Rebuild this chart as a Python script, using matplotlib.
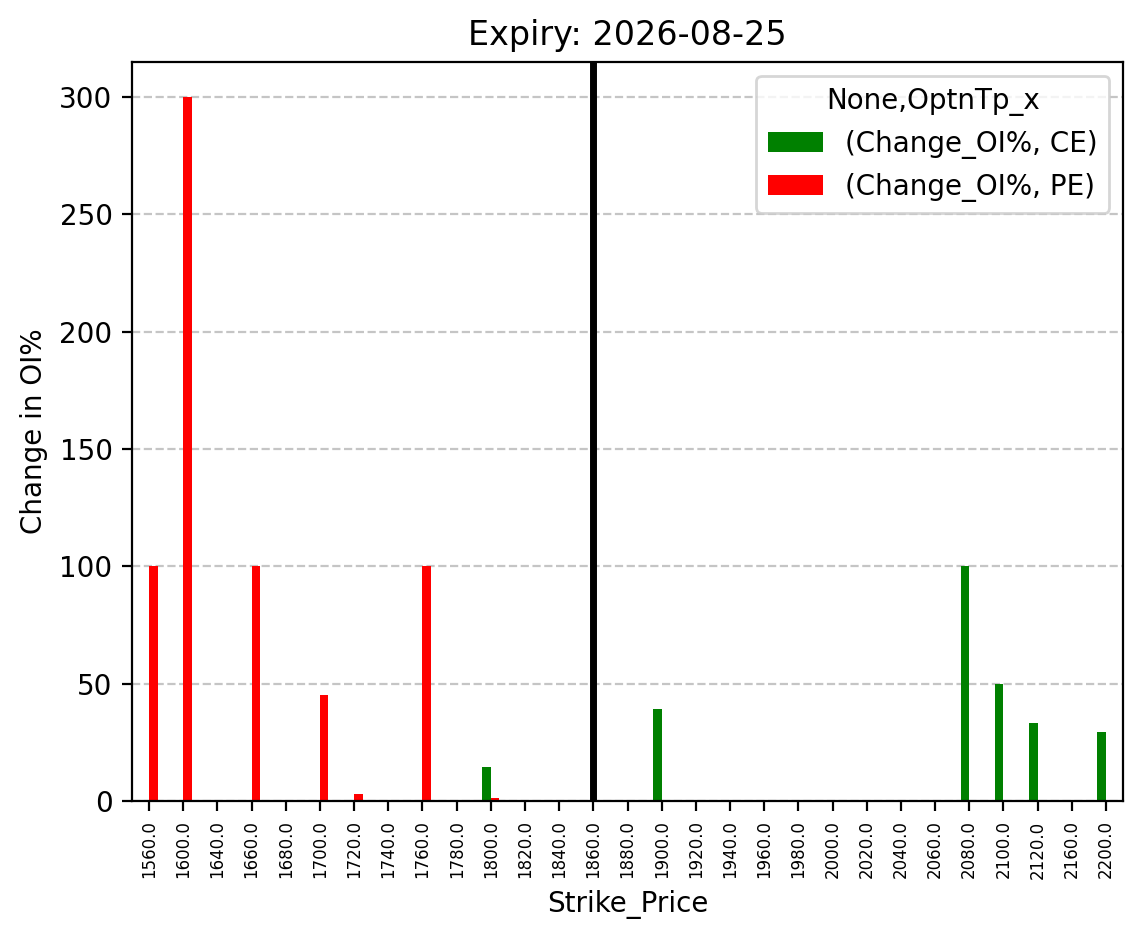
import matplotlib
matplotlib.use("Agg")
import matplotlib.pyplot as plt
import numpy as np

strikes = [1560.0, 1600.0, 1640.0, 1660.0, 1680.0, 1700.0, 1720.0, 1740.0, 1760.0,
           1780.0, 1800.0, 1820.0, 1840.0, 1860.0, 1880.0, 1900.0, 1920.0, 1940.0,
           1960.0, 1980.0, 2000.0, 2020.0, 2040.0, 2060.0, 2080.0, 2100.0, 2120.0,
           2160.0, 2200.0]
ce_change = [0, 0, 0, 0, 0, 0, 0, 0, 0,
             0, 14.3, 0, 0, 0, 0, 39.2, 0, 0,
             0, 0, 0, 0, 0, 0, 100.0, 50.0, 33.3,
             0, 29.4]
pe_change = [100.0, 300.0, 0, 100.0, 0, 45.2, 3.0, 0, 100.0,
             0, 1.3, 0, 0, 0, 0, 0, 0, 0,
             0, 0, 0, 0, 0, 0, 0, 0, 0,
             0, 0]
spot_strike = 1860.0
title = "Expiry: 2026-08-25"

fig = plt.figure(figsize=(1143 / 200, 939 / 200), dpi=200)
ax = fig.add_axes([132 / 1143, 1 - 801 / 939, (1123 - 132) / 1143, (801 - 62) / 939])

x = np.arange(len(strikes))
w = 0.25
ax.bar(x - w / 2, ce_change, width=w, color="green", label="(Change_OI%, CE)")
ax.bar(x + w / 2, pe_change, width=w, color="red", label="(Change_OI%, PE)")
ax.set_xlim(-0.5, len(strikes) - 0.5)
ax.set_ylim(0, 315)

ax.axvline(strikes.index(spot_strike), color="black", linewidth=2.5)

ax.set_xticks(x)
ax.set_xticklabels([f"{s:.1f}" for s in strikes], rotation=90, fontsize=6)
ax.set_axisbelow(True)
ax.yaxis.grid(True, linestyle="--", color="gray", alpha=0.45)

ax.set_title(title, fontsize=12)
ax.set_xlabel("Strike_Price")
ax.set_ylabel("Change in OI%")
ax.legend(title="None,OptnTp_x", loc="upper right")

fig.savefig("out.png", dpi=200)
